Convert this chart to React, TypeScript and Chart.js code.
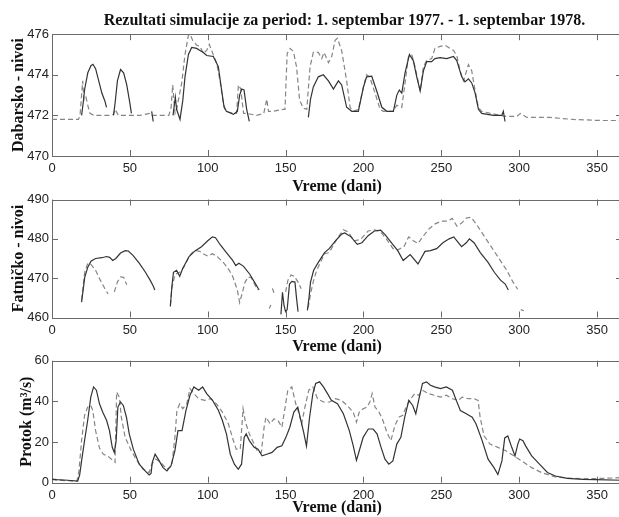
import React, { useEffect, useRef } from 'react';
import { Chart, registerables } from 'chart.js';

Chart.register(...registerables);

// ---------------- text & ticks ----------------
const MAIN_TITLE = 'Rezultati simulacije za period: 1. septembar 1977. - 1. septembar 1978.';
const X_TITLE = 'Vreme (dani)';
const X_MAX = 366;
const X_TICKS = [0, 50, 100, 150, 200, 250, 300, 350];

const DAB_TITLE = 'Dabarsko - nivoi';
const DAB_TICKS = [470, 472, 474, 476];
const FAT_TITLE = 'Fatničko - nivoi';
const FAT_TICKS = [460, 470, 480, 490];
const PROTOK_TITLE = 'Protok (m³/s)';
const PROTOK_TICKS = [0, 20, 40, 60];

// ---------------- panel 1: Dabarsko - nivoi ----------------
const dabSolidDays = [
  19, 20, 21, 23, 25, 26.3, 28, 30, 32, 34, 35,
  37,
  39.5, 40.5, 42, 44, 46, 48, 50, 51,
  57,
  64, 65,
  71,
  77.7, 79.2, 80, 82.2, 84, 85.4, 87.6, 89.7, 92.9, 95, 97.2, 99.3, 103.6, 106.8, 109, 110.5, 112, 116.5, 119, 120.5, 121.8, 123.3, 125, 126.7,
  145,
  164.6, 166, 167.8, 171, 174.2, 177.5, 180.7, 183.9, 186, 189.2, 192.5, 196.7, 200, 202, 205.3, 208.5, 211.8, 215, 219.2, 221.4, 223, 224.6, 226.7, 229.5, 232, 234.2, 236.4, 238.5, 240.6, 243.8, 245.9, 249.2, 253.5, 257.8, 259.9, 263.1, 265.2, 267.4, 269.5, 271.7, 273.8, 275.9, 283.4, 288.8, 289.8, 290.9,
];
const dabSolidVals = [
  472.0, 472.6, 473.3, 474.1, 474.45, 474.52, 474.3, 473.7, 473.1, 472.7, 472.4,
  null,
  472.0, 472.6, 473.7, 474.26, 474.1, 473.5, 472.6, 472.1,
  null,
  472.2, 471.7,
  null,
  472.0, 472.9, 472.3, 471.8, 472.75, 473.9, 475.0, 475.35, 475.3, 475.2, 475.1, 474.95, 474.9, 474.4, 473.2, 472.4, 472.2, 472.05, 472.2, 473.0, 473.3, 473.25, 472.3, 471.7,
  null,
  471.9, 472.8, 473.4, 473.9, 474.0, 473.7, 473.3, 473.7, 473.5, 472.4, 472.2, 472.2, 473.4, 473.9, 473.93, 473.2, 472.4, 472.2, 472.2, 473.0, 473.25, 473.1, 474.1, 475.0, 474.7, 473.9, 473.2, 474.2, 474.65, 474.65, 474.8, 474.85, 474.8, 474.9, 474.7, 473.9, 473.65, 473.8, 473.6, 473.1, 472.3, 472.1, 472.0, 472.0, 472.2, 471.7,
];
const dabDashDays = [
  0, 17, 18, 19.7, 20.5, 21.8, 23.3, 24.4, 27, 37,
  39.4, 40.5, 42.6, 56.5, 63, 64, 75, 76.5, 77.5, 79,
  80, 83.3, 85.4, 87.6, 88.6, 90.3, 92.9, 95, 97.2, 99.3,
  101, 102.5, 105.8, 107.9, 110, 111.8, 116.5, 118.5, 119.7, 121.2,
  123, 125, 131.4, 136, 137.9, 139, 142, 148.6, 149.6, 151,
  152.9, 155, 157, 159, 161.4, 163.6, 165.7, 167.8, 171, 173.2,
  174.7, 177.5, 179.6, 181.8, 183.2, 186, 189.2, 191.4, 193.5, 196.7,
  200, 202, 204, 207.4, 210.7, 212.8, 219, 221.4, 224.6, 226.7,
  228.9, 231, 233.1, 236.4, 238.5, 240.6, 243.8, 245.9, 249.2, 252.4,
  255.6, 257.8, 259.9, 262, 264.2, 267.4, 269.5, 271.7, 273.8, 275.9,
  287.7, 292, 298.5, 300.7, 305, 319.9, 334.8, 351.9, 366,
];
const dabDashVals = [
  471.8, 471.8, 472.0, 473.7, 472.75, 472.9, 472.4, 472.1, 472.0, 472.0,
  472.05, 472.3, 472.0, 472.0, 472.1, 472.0, 472.0, 472.4, 473.5, 472.1,
  472.3, 473.6, 475.0, 475.95, 476.0, 475.7, 475.46, 475.4, 475.05, 475.2,
  475.5, 475.2, 474.55, 473.7, 472.6, 472.2, 472.1, 472.1, 473.5, 473.3,
  472.1, 472.1, 472.0, 472.1, 472.8, 472.2, 472.2, 472.3, 472.3, 475.05,
  475.3, 475.15, 474.4, 472.75, 472.35, 472.3, 474.4, 475.1, 475.1, 474.8,
  475.1, 474.6, 474.9, 475.7, 475.8, 475.2, 473.7, 472.4, 472.2, 472.3,
  473.4, 474.0, 473.9, 473.1, 472.3, 472.2, 472.2, 472.5, 472.4, 473.6,
  474.9, 475.0, 474.4, 473.2, 474.4, 474.7, 474.8, 475.3, 475.4, 475.45,
  475.3, 475.2, 474.95, 474.2, 473.7, 474.5, 474.2, 473.2, 472.4, 472.2,
  472.0, 471.95, 471.95, 472.1, 471.9, 471.9, 471.8, 471.75, 471.75,
];

// ---------------- panel 2: Fatničko - nivoi ----------------
const fatSolidDays = [
  19, 20, 21, 23, 25, 28, 32, 35, 37, 39, 41, 44, 47, 49, 52, 56, 60, 63, 65, 66,
  70,
  76, 77, 78, 80, 82, 84, 88, 92, 96, 100, 103, 105, 108, 112, 116, 118, 120, 123, 127, 130, 133,
  140,
  147, 148, 149, 150, 151, 152.5, 154, 156, 157, 158,
  161,
  164, 165, 166, 168, 171, 175, 178, 182, 186, 188, 192, 196, 199, 203, 207, 211, 214, 218, 222, 225.5, 230, 235, 239.5, 243, 247, 251, 255, 258, 260, 263, 266, 268, 271, 275, 280, 284, 288, 291, 293,
];
const fatSolidVals = [
  463.9, 467, 470.2, 472.8, 474.3, 475.0, 475.2, 475.5, 475.3, 474.5, 475, 476.4, 477.0, 476.9, 475.8, 473.8, 471.5, 469.5, 468, 467,
  null,
  462.8, 468, 471.5, 472, 470.5, 472.5, 475.5, 477, 478, 479.5, 480.5, 480.3, 478.5, 476.5, 474.5, 473.2, 473.8, 473, 471, 469, 467,
  null,
  460.8, 466.4, 463, 461.5, 462, 468.5, 469.2, 469, 465, 461.5,
  null,
  461.8, 465, 469, 472, 474, 476.5, 477.5, 479.5, 481.2, 481.5, 480.5, 478.6, 479, 480.8, 482, 482.2, 481, 479, 477, 474.5, 476, 473.6, 476.8, 477, 477.5, 479, 480, 480.5, 479.5, 478, 479, 480, 479, 476.5, 474, 471.5, 469.5, 468.5, 467,
];
const fatDashDays = [
  19, 20, 21, 23, 25, 28, 31, 34, 36,
  38,
  40, 42, 44, 46, 48,
  60,
  76, 77, 79, 82, 85, 88, 90, 92, 95, 98, 100, 103, 106, 110, 113, 116, 119, 120.5, 122, 124, 126, 128, 130, 132,
  136,
  139.5, 140.5,
  141,
  141.5, 142.5,
  146,
  150, 151.5, 153.5, 155.5, 158, 160,
  162,
  164.5, 166, 168, 170, 175, 178, 183, 187, 190, 194, 198, 203, 207, 211, 215, 219, 222, 226, 229, 232, 235, 238, 242, 246, 250, 254, 257, 260, 263, 266, 269, 272, 277, 282, 287, 292, 296, 299,
  300.5,
  301, 303,
];
const fatDashVals = [
  464.5, 468, 471.5, 473.8, 473.5, 472, 469.5, 467.3, 466,
  null,
  466.5, 469, 470.3, 470.2, 468.3,
  null,
  463.2, 467.5, 471, 471.5, 473, 475.5, 476.5, 477, 476.8, 476, 475.6, 476.2, 475.5, 474, 472.5, 470.5, 467, 463.8, 466, 469, 470.3, 470.1, 468.5, 467,
  null,
  462.3, 463.2,
  null,
  467.4, 466.3,
  null,
  466.5, 469.5, 470.8, 470.5, 469, 467.3,
  null,
  462.5, 466, 469.5, 472, 476.2, 476.5, 480, 482.3, 481.8, 479.5, 479.8, 482, 482.3, 481.8, 479.8, 477.5, 477.2, 478, 480.5, 479.5, 478.8, 480.5, 482.5, 483.8, 484.5, 484.5, 485.2, 483.2, 484, 485.3, 485.5, 484, 481, 478, 475, 472, 469, 467.2,
  null,
  462, 461.7,
];

// ---------------- panel 3: Protok (m3/s) ----------------
const protokSolidDays = [
  0, 3, 10, 16.5, 17.8, 19, 20.9, 22.9, 24.9, 26.7,
  28.5, 30.5, 32.6, 35.1, 36.9, 38.7, 40, 41.2, 42.3, 44,
  45.8, 47.8, 49.6, 52.2, 56, 59.8, 62.4, 63.6, 64.4, 66.2,
  68.2, 71.3, 73.8, 76.4, 78.9, 80.9, 83.5, 86, 88.6, 91.1,
  94.2, 96.7, 99.3, 103.1, 106.9, 109.4, 112, 114.5, 117.1, 119.6,
  121.7, 123.4, 124.7, 126.7, 129.8, 132.3, 134.9, 137.9, 141.3, 144.6,
  147.6, 150.2, 152.7, 155.3, 157.8, 159.8, 161.6, 163.4, 165.4, 167.5,
  169.3, 171.8, 174.3, 176.9, 179.4, 183.3, 187.1, 190.9, 193.4, 195.5,
  197.3, 199.8, 203.1, 206.2, 208.7, 211.3, 213.8, 216.3, 218.9, 221.4,
  224, 226.5, 229.1, 231.6, 233.6, 235.4, 237.9, 240.5, 243, 245.6,
  249.4, 253.2, 257.1, 259.6, 262.2, 266, 269.8, 272.3, 276.2, 280,
  283.8, 286.3, 288.9, 290.7, 292.7, 295.2, 297.3, 299.1, 300.3, 302.4,
  304.2, 308, 313, 318.1, 323.2, 330.9, 341, 348.7, 366,
];
const protokSolidVals = [
  1.8, 1.5, 1.2, 0.8, 4, 10.7, 20.7, 30.6, 42.1, 47.1,
  45.5, 38.8, 34.7, 30.6, 25.6, 17.4, 14.9, 20.7, 37.2, 39.7,
  38, 32.2, 24, 16.5, 9.1, 5.8, 3.8, 4.5, 10, 14,
  11.6, 7.4, 5.8, 8.3, 15.7, 25.6, 25.6, 35.5, 43, 47.1,
  45.5, 47.1, 43.8, 40.5, 35.5, 30.6, 24, 14, 9.1, 6.6,
  9.1, 22.3, 24, 20.7, 17.4, 16.5, 13.2, 14, 14.9, 17.4,
  18.2, 22.3, 27.3, 34.7, 37.2, 30.6, 24.8, 18, 32.2, 43.8,
  48.8, 49.6, 47.1, 43.8, 40.5, 38.8, 33.9, 25.6, 18.2, 11,
  15.7, 22.3, 26.4, 26.4, 24, 17.4, 11.6, 9.1, 10.7, 19,
  22.3, 32.2, 40.5, 38, 33.9, 40.5, 48.8, 49.6, 47.9, 47.1,
  46.3, 47.1, 45.5, 40.5, 35.5, 33.9, 32.2, 28.9, 20.7, 11.6,
  7.4, 4, 10.7, 22, 23, 17.4, 13.2, 19, 21.5, 20.7,
  18, 13.2, 9.1, 5, 3.3, 2.1, 1.6, 1.5, 1.2,
];
const protokDashDays = [
  0, 5, 16, 17.3, 19, 20.9, 22.9, 24.9, 26.2, 28,
  30.5, 33, 36, 39, 40.5, 41.5, 43.3, 44.5, 47, 50.9,
  54.7, 58.5, 62.4, 64.1, 66.7, 70, 73.8, 76.9, 78.9, 80.2,
  82, 84, 86.5, 88.6, 91.1, 94.2, 98, 101.8, 105.6, 109.4,
  113.3, 115.8, 118.3, 120.9, 122.7, 124.2, 126.7, 129.8, 132.3, 134.4,
  136.2, 137.4, 140, 142.5, 145.1, 147.6, 149.7, 151.4, 154, 156.5,
  158.3, 160.3, 162.4, 164.9, 167.5, 170.5, 174.3, 178.2, 182, 185.8,
  189.6, 193.4, 195.5, 197.3, 199.8, 202.3, 204.1, 205.6, 207.4, 210,
  212.5, 215, 217.6, 220.2, 222.7, 225.2, 227.8, 230.4, 232.9, 235.4,
  237.9, 241.8, 245.6, 249.4, 253.2, 257.1, 260.9, 263.4, 267.3, 271.1,
  273.6, 274.9, 277.4, 281.2, 286.3, 291.4, 296.5, 301.6, 308, 314.3,
  323.2, 336, 348.7, 366,
];
const protokDashVals = [
  1.5, 1.2, 0.7, 5.8, 20.7, 33.1, 37.2, 38, 35.5, 25.6,
  17, 14, 13, 11, 10, 44.6, 42, 32.2, 22.3, 15.7,
  10.7, 6.6, 5, 9.1, 11.6, 9.9, 6.6, 8.3, 22.3, 35.5,
  38.8, 36.4, 38.8, 46.3, 43.8, 41.3, 40.5, 41.3, 38.8, 34.7,
  28.9, 22.3, 16.5, 16.5, 36.4, 29.8, 24, 19, 14.9, 14.9,
  27.3, 32.2, 29, 31.4, 30.6, 27.3, 37.2, 45.5, 47.1, 38.8,
  34.7, 28.9, 37.2, 45.5, 47.1, 41.3, 39.7, 39.7, 41.3, 40.5,
  38, 34.7, 29.8, 34.7, 36.4, 37.2, 39.7, 43.8, 37.2, 34.7,
  30.6, 24.8, 20.7, 28.1, 32.2, 33.1, 38, 41.3, 43.8, 43,
  45.5, 43.8, 43, 42.1, 43, 41.3, 40.5, 42.1, 41.3, 41.3,
  40.5, 32.2, 23.1, 19, 17.4, 15.7, 13.2, 10.7, 7.4, 5,
  2.8, 2.1, 2, 2.5,
];

// ---------------- layout / style ----------------
const CANVAS_W = 689;
const AREA_LEFT = 52;
const AREA_RIGHT = 622;
const SOLID_COLOR = '#333333';
const DASH_COLOR = '#858585';
const FRAME_COLOR = '#6a6a6a';
const TICK_FONT = { family: '"Liberation Sans", Arial, sans-serif', size: 13, lineHeight: 1 };
const TITLE_FONT = { family: '"Liberation Serif", "Times New Roman", serif', size: 16, weight: 'bold' as const, lineHeight: 1.2 };

function makeSeries(days: number[], vals: (number | null)[]) {
  return days.map((d, i) => ({ x: d, y: vals[i] === undefined ? null : vals[i] }));
}

const framePlugin = {
  id: 'matlabFrame',
  beforeDatasetsDraw(chart: any) {
    const { ctx, chartArea: a, scales } = chart;
    const xs = scales.x;
    const ys = scales.y;
    const L = 6;
    ctx.save();
    ctx.strokeStyle = FRAME_COLOR;
    ctx.lineWidth = 1;
    ctx.strokeRect(Math.round(a.left) + 0.5, Math.round(a.top) + 0.5, Math.round(a.right - a.left), Math.round(a.bottom - a.top));
    ctx.beginPath();
    xs.ticks.forEach((t: any) => {
      const px = Math.round(xs.getPixelForValue(t.value)) + 0.5;
      ctx.moveTo(px, a.bottom);
      ctx.lineTo(px, a.bottom - L);
      ctx.moveTo(px, a.top);
      ctx.lineTo(px, a.top + L);
    });
    ys.ticks.forEach((t: any) => {
      const py = Math.round(ys.getPixelForValue(t.value)) + 0.5;
      ctx.moveTo(a.left, py);
      ctx.lineTo(a.left + L, py);
      ctx.moveTo(a.right, py);
      ctx.lineTo(a.right - L, py);
    });
    ctx.stroke();
    ctx.restore();
  },
};

type PanelSpec = {
  top: number;
  height: number;
  padTop: number;
  showTitle: boolean;
  xHeight: number;
  xTitlePad: number;
  yMin: number;
  yMax: number;
  yTicks: number[];
  yTitle: string;
  yTitlePad: number;
  solidDays: number[];
  solidVals: (number | null)[];
  dashDays: number[];
  dashVals: (number | null)[];
};

const PANELS: PanelSpec[] = [
  {
    top: 0, height: 200, padTop: 0, showTitle: true, xHeight: 44, xTitlePad: 3.4,
    yMin: 470, yMax: 476, yTicks: DAB_TICKS, yTitle: DAB_TITLE, yTitlePad: 9,
    solidDays: dabSolidDays, solidVals: dabSolidVals, dashDays: dabDashDays, dashVals: dabDashVals,
  },
  {
    top: 190, height: 170, padTop: 7.5, showTitle: false, xHeight: 42.5, xTitlePad: 3.9,
    yMin: 460, yMax: 490, yTicks: FAT_TICKS, yTitle: FAT_TITLE, yTitlePad: 9,
    solidDays: fatSolidDays, solidVals: fatSolidVals, dashDays: fatDashDays, dashVals: fatDashVals,
  },
  {
    top: 350, height: 167, padTop: 10.7, showTitle: false, xHeight: 34.3, xTitlePad: 0,
    yMin: 0, yMax: 60, yTicks: PROTOK_TICKS, yTitle: PROTOK_TITLE, yTitlePad: 17,
    solidDays: protokSolidDays, solidVals: protokSolidVals, dashDays: protokDashDays, dashVals: protokDashVals,
  },
];

function buildConfig(p: PanelSpec): any {
  return {
    type: 'line',
    data: {
      datasets: [
        {
          label: 'solid',
          data: makeSeries(p.solidDays, p.solidVals),
          borderColor: SOLID_COLOR,
          borderWidth: 1.2,
          pointRadius: 0,
          tension: 0,
          spanGaps: false,
          fill: false,
          yAxisID: 'y',
        },
        {
          label: 'dashed',
          data: makeSeries(p.dashDays, p.dashVals),
          borderColor: DASH_COLOR,
          borderWidth: 1.2,
          borderDash: [5, 3],
          pointRadius: 0,
          tension: 0,
          spanGaps: false,
          fill: false,
          yAxisID: 'y',
        },
      ],
    },
    options: {
      animation: false,
      responsive: false,
      devicePixelRatio: 1,
      layout: { padding: { top: p.padTop, right: 0, left: 0, bottom: 0 } },
      plugins: {
        legend: { display: false },
        tooltip: { enabled: false },
        title: {
          display: p.showTitle,
          text: MAIN_TITLE,
          color: '#111111',
          font: TITLE_FONT,
          padding: { top: 11, bottom: 4 },
        },
      },
      scales: {
        x: {
          type: 'linear',
          min: 0,
          max: X_MAX,
          grid: { display: false, drawTicks: false },
          border: { display: false },
          ticks: {
            padding: 6,
            color: '#222222',
            font: TICK_FONT,
            maxRotation: 0,
            autoSkip: false,
            callback: (v: any) => String(v),
          },
          afterBuildTicks: (s: any) => {
            s.ticks = X_TICKS.map((v) => ({ value: v }));
          },
          afterFit: (s: any) => {
            s.height = p.xHeight;
          },
          title: {
            display: true,
            text: X_TITLE,
            color: '#111111',
            font: TITLE_FONT,
            padding: { top: 0, bottom: p.xTitlePad },
          },
        },
        y: {
          type: 'linear',
          position: 'left',
          min: p.yMin,
          max: p.yMax,
          grid: { display: false, drawTicks: false },
          border: { display: false },
          ticks: {
            padding: 3,
            color: '#222222',
            font: TICK_FONT,
            callback: (v: any) => String(v),
          },
          afterBuildTicks: (s: any) => {
            s.ticks = p.yTicks.map((v) => ({ value: v }));
          },
          afterFit: (s: any) => {
            s.width = AREA_LEFT;
          },
          title: {
            display: true,
            text: p.yTitle,
            color: '#111111',
            font: TITLE_FONT,
            padding: { top: p.yTitlePad, bottom: 0 },
          },
        },
        yRight: {
          type: 'linear',
          position: 'right',
          min: p.yMin,
          max: p.yMax,
          grid: { display: false, drawTicks: false },
          border: { display: false },
          ticks: { display: false },
          afterFit: (s: any) => {
            s.width = CANVAS_W - AREA_RIGHT;
          },
        },
      },
    },
    plugins: [framePlugin],
  };
}

function Panel({ spec }: { spec: PanelSpec }) {
  const ref = useRef<HTMLCanvasElement | null>(null);
  useEffect(() => {
    if (!ref.current) return;
    const chart = new Chart(ref.current, buildConfig(spec));
    return () => chart.destroy();
  }, [spec]);
  return (
    <canvas
      ref={ref}
      width={CANVAS_W}
      height={spec.height}
      style={{ position: 'absolute', left: 0, top: spec.top, width: CANVAS_W, height: spec.height, display: 'block' }}
    />
  );
}

export default function App() {
  return (
    <div
      style={{
        position: 'fixed',
        left: 0,
        top: 0,
        width: 619,
        height: 517,
        overflow: 'hidden',
        background: '#ffffff',
      }}
    >
      {PANELS.map((p, i) => (
        <Panel key={i} spec={p} />
      ))}
    </div>
  );
}
